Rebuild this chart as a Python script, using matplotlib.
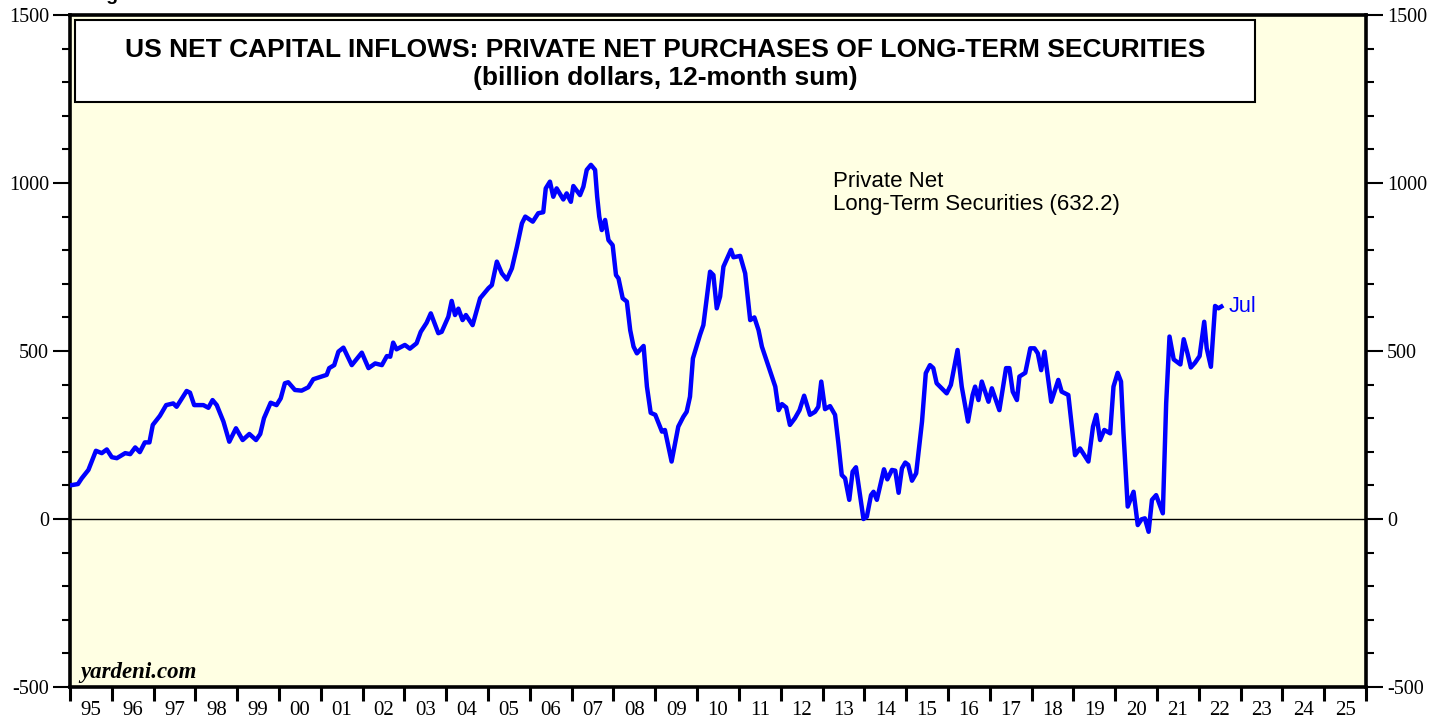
import matplotlib
matplotlib.use('Agg')
import matplotlib.pyplot as plt
from matplotlib.patches import Rectangle
from matplotlib.ticker import MultipleLocator, FixedLocator, NullFormatter, FixedFormatter

plt.rcParams['axes.unicode_minus'] = False

# decimal year / value pairs (billion dollars, 12-month sum)
dates = [
    1995.00, 1995.19, 1995.28, 1995.44, 1995.62, 1995.76, 1995.88, 1996.00, 1996.12, 1996.32,
    1996.44, 1996.56, 1996.67, 1996.79, 1996.90, 1996.98, 1997.15, 1997.30, 1997.47, 1997.55,
    1997.79, 1997.87, 1997.97, 1998.19, 1998.31, 1998.41, 1998.51, 1998.67, 1998.81, 1998.97,
    1999.13, 1999.29, 1999.45, 1999.55, 1999.64, 1999.80, 1999.94, 2000.04, 2000.14, 2000.22,
    2000.38, 2000.54, 2000.70, 2000.82, 2001.06, 2001.14, 2001.20, 2001.32, 2001.42, 2001.54,
    2001.74, 2001.98, 2002.14, 2002.30, 2002.46, 2002.58, 2002.66, 2002.73, 2002.81, 2003.01,
    2003.13, 2003.29, 2003.39, 2003.53, 2003.63, 2003.81, 2003.89, 2004.05, 2004.13, 2004.21,
    2004.29, 2004.39, 2004.47, 2004.63, 2004.81, 2005.01, 2005.09, 2005.21, 2005.33, 2005.45,
    2005.57, 2005.69, 2005.81, 2005.89, 2006.07, 2006.20, 2006.32, 2006.38, 2006.48, 2006.56,
    2006.64, 2006.80, 2006.88, 2006.98, 2007.04, 2007.20, 2007.28, 2007.36, 2007.46, 2007.56,
    2007.61, 2007.66, 2007.72, 2007.80, 2007.88, 2007.98, 2008.06, 2008.12, 2008.22, 2008.32,
    2008.40, 2008.48, 2008.56, 2008.72, 2008.80, 2008.89, 2009.00, 2009.16, 2009.23, 2009.39,
    2009.55, 2009.67, 2009.75, 2009.83, 2009.90, 2010.07, 2010.15, 2010.31, 2010.39, 2010.47,
    2010.55, 2010.63, 2010.81, 2010.87, 2011.03, 2011.15, 2011.27, 2011.37, 2011.47, 2011.55,
    2011.67, 2011.87, 2011.95, 2012.03, 2012.13, 2012.22, 2012.34, 2012.45, 2012.56, 2012.70,
    2012.82, 2012.90, 2012.97, 2013.06, 2013.18, 2013.30, 2013.38, 2013.46, 2013.54, 2013.64,
    2013.72, 2013.80, 2013.98, 2014.06, 2014.16, 2014.22, 2014.30, 2014.42, 2014.47, 2014.55,
    2014.66, 2014.74, 2014.82, 2014.90, 2014.98, 2015.05, 2015.14, 2015.24, 2015.38, 2015.47,
    2015.57, 2015.65, 2015.73, 2015.97, 2016.07, 2016.23, 2016.33, 2016.48, 2016.59, 2016.65,
    2016.73, 2016.81, 2016.97, 2017.05, 2017.23, 2017.39, 2017.47, 2017.55, 2017.65, 2017.71,
    2017.85, 2017.97, 2018.07, 2018.15, 2018.23, 2018.31, 2018.47, 2018.64, 2018.72, 2018.88,
    2019.04, 2019.16, 2019.36, 2019.47, 2019.55, 2019.64, 2019.74, 2019.88, 2019.96, 2020.06,
    2020.14, 2020.20, 2020.30, 2020.44, 2020.54, 2020.63, 2020.71, 2020.80, 2020.88, 2020.98,
    2021.14, 2021.22, 2021.30, 2021.40, 2021.56, 2021.64, 2021.73, 2021.81, 2021.91, 2022.02,
    2022.13, 2022.19, 2022.29, 2022.39, 2022.47, 2022.54,
]
values = [
    100, 104, 121, 146, 203, 196, 207, 184, 181, 196,
    193, 213, 199, 228, 228, 280, 307, 339, 344, 334,
    381, 376, 339, 339, 331, 354, 339, 290, 230, 270,
    235, 253, 235, 253, 300, 346, 339, 359, 404, 407,
    384, 382, 392, 416, 426, 429, 449, 458, 498, 510,
    458, 495, 449, 463, 458, 485, 483, 525, 505, 518,
    507, 523, 557, 584, 612, 553, 557, 602, 649, 607,
    626, 592, 607, 577, 657, 687, 696, 766, 731, 713,
    746, 810, 880, 900, 885, 910, 913, 984, 1004, 959,
    984, 951, 969, 944, 991, 964, 989, 1039, 1054, 1039,
    959, 900, 860, 890, 830, 815, 726, 716, 657, 647,
    562, 513, 493, 515, 394, 316, 310, 260, 265, 171,
    275, 304, 319, 364, 478, 548, 577, 736, 726, 627,
    662, 751, 801, 779, 783, 731, 592, 600, 562, 513,
    468, 394, 324, 342, 332, 280, 300, 324, 367, 310,
    319, 334, 409, 327, 336, 310, 225, 131, 121, 57,
    141, 154, 0, 7, 71, 81, 57, 121, 148, 118,
    146, 144, 78, 151, 168, 161, 114, 136, 290, 434,
    458, 449, 404, 374, 399, 503, 394, 290, 369, 394,
    354, 409, 349, 389, 324, 449, 449, 379, 354, 424,
    435, 508, 508, 493, 443, 498, 349, 414, 379, 369,
    190, 210, 171, 275, 310, 235, 265, 255, 394, 435,
    409, 255, 37, 81, -18, -1, 2, -38, 57, 71,
    17, 344, 543, 475, 460, 535, 493, 451, 465, 485,
    587, 508, 453, 634, 627, 632.2,
]

year_labels = ['95', '96', '97', '98', '99', '00', '01', '02', '03', '04', '05',
               '06', '07', '08', '09', '10', '11', '12', '13', '14', '15', '16',
               '17', '18', '19', '20', '21', '22', '23', '24', '25']

fig = plt.figure(figsize=(14.46, 7.21), dpi=100)
ax = fig.add_axes([70 / 1446, 34 / 721, 1296 / 1446, 672 / 721])
ax.set_facecolor('#ffffe3')

ax.plot(dates, values, color='#0000ff', lw=3.2, zorder=3, solid_joinstyle='round')
ax.axhline(0, color='black', lw=1, zorder=2)

ax.set_xlim(1995, 2026)
ax.set_ylim(-500, 1500)

# x axis: ticks at year boundaries, labels centred in between
ax.xaxis.set_major_locator(FixedLocator(range(1995, 2027)))
ax.xaxis.set_major_formatter(NullFormatter())
ax.xaxis.set_minor_locator(FixedLocator([y + 0.5 for y in range(1995, 2026)]))
ax.xaxis.set_minor_formatter(FixedFormatter(year_labels))
ax.tick_params(axis='x', which='major', direction='out', length=10, width=2.2, color='black')
ax.tick_params(axis='x', which='minor', length=0, pad=10, labelsize=15)

# y axis on both sides
ax.yaxis.set_major_locator(MultipleLocator(500))
ax.yaxis.set_minor_locator(MultipleLocator(100))
ax.tick_params(axis='y', which='both', direction='out', left=True, right=True,
               labelleft=True, labelright=True, color='black')
ax.tick_params(axis='y', which='major', length=12, width=1.5, labelsize=14.5, pad=3)
ax.tick_params(axis='y', which='minor', length=6, width=1.5)

for lab in ax.get_xticklabels(minor=True) + ax.get_yticklabels():
    lab.set_fontfamily('Liberation Serif')

for sp in ax.spines.values():
    sp.set_linewidth(2.6)

# title box
ax.add_patch(Rectangle((5 / 1296, (687 - 102) / 672), 1180 / 1296, 82 / 672,
                       transform=ax.transAxes, facecolor='white', edgecolor='black',
                       lw=1.5, zorder=4))
ax.text(0.459, 0.948, 'US NET CAPITAL INFLOWS: PRIVATE NET PURCHASES OF LONG-TERM SECURITIES',
        transform=ax.transAxes, ha='center', va='center', fontsize=19, fontweight='bold',
        family='Liberation Sans', zorder=5)
ax.text(0.459, 0.906, '(billion dollars, 12-month sum)', transform=ax.transAxes,
        ha='center', va='center', fontsize=19, fontweight='bold',
        family='Liberation Sans', zorder=5)

ax.text(0.5887, 0.768, 'Private Net\nLong-Term Securities (632.2)', transform=ax.transAxes,
        ha='left', va='top', fontsize=16, family='Liberation Sans', linespacing=1.15)
ax.text(0.8943, 0.5655, 'Jul', transform=ax.transAxes, ha='left', va='center',
        fontsize=15.5, color='#0000ff', family='Liberation Sans')
ax.text(0.0077, 0.0134, 'yardeni.com', transform=ax.transAxes, ha='left', va='baseline',
        fontsize=16.5, fontweight='bold', fontstyle='italic', family='Liberation Serif')

# figure label cut off at the top edge
fig.text(90 / 1446, 1 - 0.5 / 721, 'Figure', ha='left', va='baseline', fontsize=14,
         fontweight='bold', family='Liberation Sans')

fig.savefig('out.png', dpi=100)
